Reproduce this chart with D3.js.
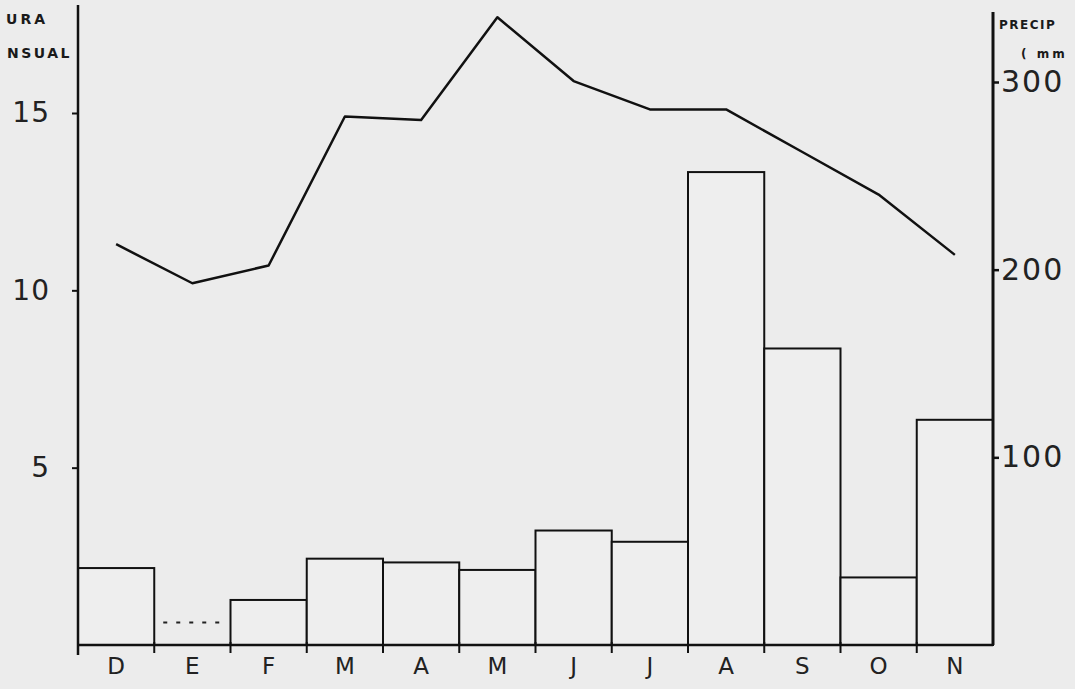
<!DOCTYPE html>
<html>
<head>
<meta charset="utf-8">
<script src="https://cdn.jsdelivr.net/npm/d3@7"></script>
<style>
  html, body { margin: 0; padding: 0; background: #ececec; }
  svg { display: block; }
  text { font-family: "DejaVu Sans", Lato, sans-serif; fill: #1a1a1a; }
</style>
</head>
<body>
<div id="chart"></div>
<script>
// months (Dec -> Nov)
var months = ["D", "E", "F", "M", "A", "M", "J", "J", "A", "S", "O", "N"];
// mean monthly temperature (°C)
var temperature = [11.3, 10.2, 10.7, 14.9, 14.8, 17.7, 15.9, 15.1, 15.1, 13.9, 12.7, 11.0];
// monthly precipitation (mm)
var precipitation = [41, 12, 24, 46, 44, 40, 61, 55, 252, 158, 36, 120];
var tempTicks = [5, 10, 15];
var precTicks = [100, 200, 300];

var w = 1075;
var h = 689;

var left = 78, right = 993, base = 645;

var svg = d3.select("#chart")
            .append("svg")
            .attr("width", w)
            .attr("height", h);

svg.append("rect").attr("width", w).attr("height", h).attr("fill", "#ececec");

var xScale = d3.scaleBand()
               .domain(d3.range(months.length))
               .range([left, right])
               .padding(0);

var yTemp = d3.scaleLinear().domain([0, 15]).range([base, 113]);
var yPrec = d3.scaleLinear().domain([0, 300]).range([base, 82]);

// precipitation bars (E is only a dotted trace)
var bars = precipitation.map(function(d, i) { return {v: d, i: i}; });

svg.selectAll("rect.bar")
   .data(bars.filter(function(d) { return d.i !== 1; }))
   .enter()
   .append("rect")
   .attr("class", "bar")
   .attr("x", function(d) { return xScale(d.i); })
   .attr("y", function(d) { return yPrec(d.v); })
   .attr("width", xScale.bandwidth())
   .attr("height", function(d) { return base - yPrec(d.v); })
   .attr("fill", "#eeeeee")
   .attr("stroke", "#111")
   .attr("stroke-width", 2);

svg.append("line")
   .attr("x1", xScale(1) + 9)
   .attr("x2", xScale(1) + xScale.bandwidth() - 9)
   .attr("y1", yPrec(precipitation[1]))
   .attr("y2", yPrec(precipitation[1]))
   .attr("stroke", "#222")
   .attr("stroke-width", 2)
   .attr("stroke-dasharray", "4,9");

// temperature line
var line = d3.line()
             .x(function(d, i) { return xScale(i) + xScale.bandwidth() / 2; })
             .y(function(d) { return yTemp(d); });

svg.append("path")
   .datum(temperature)
   .attr("d", line)
   .attr("fill", "none")
   .attr("stroke", "#111")
   .attr("stroke-width", 2.5)
   .attr("stroke-linejoin", "round");

// left axis
var leftAxis = d3.axisLeft(yTemp).tickValues(tempTicks).tickSize(6).tickPadding(22);
var gL = svg.append("g").attr("transform", "translate(" + left + ",0)").call(leftAxis);
gL.select(".domain").remove();
gL.selectAll(".tick line").attr("stroke", "#111").attr("stroke-width", 2);
gL.selectAll(".tick text")
  .style("font-family", "'DejaVu Sans', sans-serif")
  .style("font-size", "28px").style("letter-spacing", "1px").style("fill", "#222");
svg.append("line").attr("x1", left).attr("x2", left).attr("y1", 5).attr("y2", base + 10)
   .attr("stroke", "#111").attr("stroke-width", 2.5);

// right axis
var rightAxis = d3.axisRight(yPrec).tickValues(precTicks).tickSize(6).tickPadding(2);
var gR = svg.append("g").attr("transform", "translate(" + right + ",0)").call(rightAxis);
gR.select(".domain").remove();
gR.selectAll(".tick line").attr("stroke", "#111").attr("stroke-width", 2.5);
gR.selectAll(".tick text")
  .style("font-family", "'DejaVu Sans', sans-serif")
  .style("font-size", "30px").style("letter-spacing", "2px").style("fill", "#222");
svg.append("line").attr("x1", right).attr("x2", right).attr("y1", 12).attr("y2", base)
   .attr("stroke", "#111").attr("stroke-width", 3);

// bottom axis
svg.append("line").attr("x1", left).attr("x2", right).attr("y1", base).attr("y2", base)
   .attr("stroke", "#111").attr("stroke-width", 2.5);
svg.selectAll("line.xtick")
   .data(d3.range(1, months.length))
   .enter()
   .append("line")
   .attr("class", "xtick")
   .attr("x1", function(d) { return xScale(d); })
   .attr("x2", function(d) { return xScale(d); })
   .attr("y1", base - 3)
   .attr("y2", base + 8)
   .attr("stroke", "#111")
   .attr("stroke-width", 2);

svg.selectAll("text.month")
   .data(months)
   .enter()
   .append("text")
   .attr("class", "month")
   .attr("x", function(d, i) { return xScale(i) + xScale.bandwidth() / 2; })
   .attr("y", 674)
   .attr("text-anchor", "middle")
   .style("font-size", "23px")
   .style("fill", "#222")
   .text(function(d) { return d; });

// axis titles, as much of them as the page shows
svg.append("text").attr("x", 48).attr("y", 24).attr("text-anchor", "end")
   .style("font-size", "14px").style("letter-spacing", "3px").style("font-weight", "bold")
   .text("URA");
svg.append("text").attr("x", 72).attr("y", 58).attr("text-anchor", "end")
   .style("font-size", "14px").style("letter-spacing", "2.5px").style("font-weight", "bold")
   .text("NSUAL");
svg.append("text").attr("x", 999).attr("y", 29)
   .style("font-size", "12px").style("letter-spacing", "1.5px").style("font-weight", "bold")
   .text("PRECIP");
svg.append("text").attr("x", 1021).attr("y", 58)
   .style("font-size", "12px").style("letter-spacing", "3px").style("font-weight", "bold")
   .text("( mm");
</script>
</body>
</html>
